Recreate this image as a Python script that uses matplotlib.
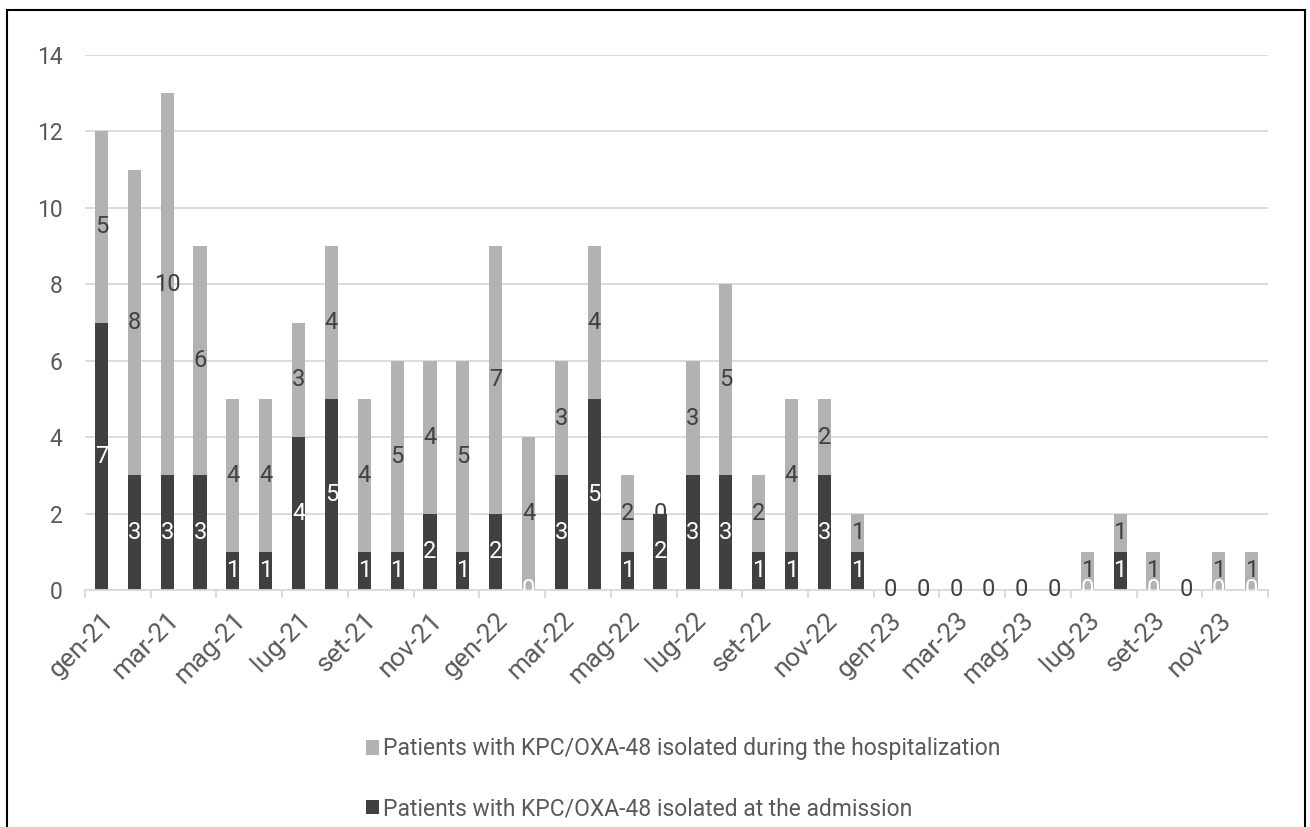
import matplotlib
matplotlib.use("Agg")
import matplotlib.pyplot as plt
from matplotlib.patches import Rectangle, Patch
import numpy as np

months = [
    "gen-21", "feb-21", "mar-21", "apr-21", "mag-21", "giu-21",
    "lug-21", "ago-21", "set-21", "ott-21", "nov-21", "dic-21",
    "gen-22", "feb-22", "mar-22", "apr-22", "mag-22", "giu-22",
    "lug-22", "ago-22", "set-22", "ott-22", "nov-22", "dic-22",
    "gen-23", "feb-23", "mar-23", "apr-23", "mag-23", "giu-23",
    "lug-23", "ago-23", "set-23", "ott-23", "nov-23", "dic-23",
]
at_admission = [7, 3, 3, 3, 1, 1, 4, 5, 1, 1, 2, 1,
                2, 0, 3, 5, 1, 2, 3, 3, 1, 1, 3, 1,
                0, 0, 0, 0, 0, 0, 0, 1, 0, 0, 0, 0]
during_hospitalization = [5, 8, 10, 6, 4, 4, 3, 4, 4, 5, 4, 5,
                          7, 4, 3, 4, 2, 0, 3, 5, 2, 4, 2, 1,
                          0, 0, 0, 0, 0, 0, 1, 1, 1, 0, 1, 1]

label_admission = "Patients with KPC/OXA-48 isolated at the admission"
label_hosp = "Patients with KPC/OXA-48 isolated during the hospitalization"

dark = "#404040"
light = "#b2b2b2"
text_col = "#595959"
grid_col = "#d9d9d9"

plt.rcParams["font.family"] = ["Roboto", "DejaVu Sans"]

fig = plt.figure(figsize=(13.1, 8.27), dpi=100)
ax = fig.add_axes([85 / 1310, 1 - 590 / 827, (1268 - 85) / 1310, (590 - 55) / 827])

x = np.arange(len(months))
adm = np.array(at_admission)
hosp = np.array(during_hospitalization)
w = 0.4

ax.bar(x, adm, width=w, color=dark, zorder=2)
ax.bar(x, hosp, width=w, bottom=adm, color=light, zorder=2)

# value labels centred in each segment
for xi, a, h in zip(x, adm, hosp):
    ax.text(xi, a / 2, str(a), ha="center", va="center", color="white",
            fontsize=17, zorder=3)
    ax.text(xi, a + h / 2, str(h), ha="center", va="center", color=dark,
            fontsize=17, zorder=4)

ax.set_xlim(-0.5, len(months) - 0.5)
ax.set_ylim(0, 14)
ax.set_yticks(np.arange(0, 15, 2))
ax.yaxis.grid(True, color=grid_col, linewidth=1.3, zorder=0)
ax.set_axisbelow(True)
ax.tick_params(axis="y", length=0, labelsize=16.5, labelcolor=text_col, pad=16)

# boundary ticks every two months, labels under every other month
ax.set_xticks(np.arange(-0.5, len(months), 2))
ax.set_xticklabels([])
ax.tick_params(axis="x", which="major", length=6, width=1.3, color=grid_col)
ax.set_xticks(x[::2], minor=True)
ax.set_xticklabels(months[::2], minor=True, rotation=45, ha="right",
                   rotation_mode="anchor", fontsize=19, color=text_col)
ax.tick_params(axis="x", which="minor", length=0, pad=13)

for s in ["top", "right", "left"]:
    ax.spines[s].set_visible(False)
ax.spines["bottom"].set_color(grid_col)
ax.spines["bottom"].set_linewidth(1.3)

handles = [Patch(facecolor=light, label=label_hosp),
           Patch(facecolor=dark, label=label_admission)]
fig.legend(handles=handles, loc="upper left",
           bbox_to_anchor=(355 / 1310, 1 - 726 / 827),
           frameon=False, fontsize=16.5, labelcolor=text_col,
           handlelength=0.55, handleheight=0.6, handletextpad=0.18,
           labelspacing=1.6, borderpad=0)

# outer frame around the chart
fig.add_artist(Rectangle((7 / 1310, -0.01), (1305 - 7) / 1310, 1 - 10 / 827 + 0.01,
                         transform=fig.transFigure, fill=False,
                         edgecolor="black", linewidth=1.5))

fig.savefig("out.png", dpi=100)
